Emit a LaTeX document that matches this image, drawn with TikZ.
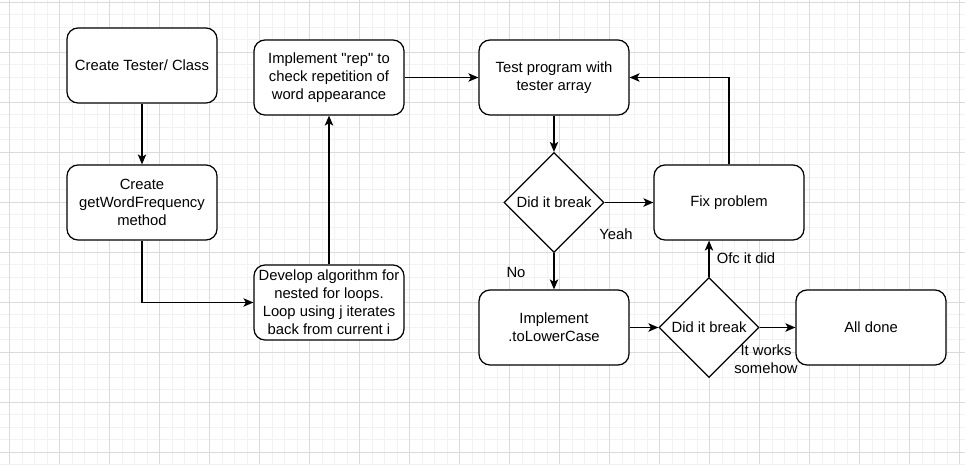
\documentclass[tikz,border=0pt]{standalone}
\usepackage{fontspec}
\setmainfont{Liberation Sans}
\newfontfamily\qfont{Liberation Sans}
\usetikzlibrary{shapes.geometric,arrows.meta}
\newcommand\dfont{\fontsize{14.8pt}{18pt}\selectfont}
\newcommand\sq{{\qfont\char34}}
\begin{document}
\begin{tikzpicture}[x=1pt,y=-1pt,
  minorline/.style={draw=black!5,line width=0.9pt},
  majorline/.style={draw=black!14,line width=0.9pt},
  box/.style={draw,line width=1.25pt,rounded corners=11pt,minimum width=150pt,minimum height=75pt,align=center,font=\dfont,inner sep=1pt,fill=white},
  dia/.style={draw,line width=1.25pt,diamond,minimum width=100pt,minimum height=100pt,inner sep=0pt,fill=white,label={[font=\dfont]center:#1}},
  conn/.style={line width=1.25pt,-{Stealth[length=10pt,width=8.5pt,inset=2.5pt]}},
  lbl/.style={font=\dfont,align=center,inner sep=0pt}]
\useasboundingbox (0,0) rectangle (965,464);
\fill[white] (0,0) rectangle (965,464);
% grid
\foreach \i in {0,...,77} \draw[minorline] (9.5+\i*12.5,0) -- (9.5+\i*12.5,464);
\foreach \j in {0,...,37} \draw[minorline] (0,2+\j*12.5) -- (965,2+\j*12.5);
\foreach \i in {0,...,19} \draw[majorline] (9.5+\i*50,0) -- (9.5+\i*50,464);
\foreach \j in {0,...,9} \draw[majorline] (0,2+\j*50) -- (965,2+\j*50);
% nodes
\node[box] (tester) at (142,65.5) {Create Tester/ Class};
\node[box] (gwf) at (142,202.5) {Create\\getWordFrequency\\method};
\node[box] (rep) at (329,77.5) {Implement \sq rep\sq{} to\\check repetition of\\word appearance};
\node[box] (dev) at (329,302.5) {Develop algorithm for\\nested for loops.\\Loop using j iterates\\back from current i};
\node[box] (test) at (554,77.5) {Test program with\\tester array};
\node[dia={Did it break}] (d1) at (554,202.5) {};
\node[box] (fix) at (729,202.5) {Fix problem};
\node[box] (lower) at (554,327.5) {Implement\\.toLowerCase};
\node[dia={Did it break}] (d2) at (709,327.5) {};
\node[box] (done) at (871,327.5) {All done};
% connectors
\draw[conn] (tester) -- (gwf);
\draw[conn] (gwf.south) |- (dev.west);
\draw[conn] (dev) -- (rep);
\draw[conn] (rep) -- (test);
\draw[conn] (test) -- (d1);
\draw[conn] (d1) -- (fix);
\draw[conn] (d1) -- (lower);
\draw[conn] (lower) -- (d2);
\draw[conn] (d2.north) -- (d2.north |- fix.south);
\draw[conn] (d2) -- (done);
\draw[conn] (fix.north) |- (test.east);
% labels
\node[lbl] (yeah) at (616,234) {Yeah};
\node[lbl] (no) at (516,272) {No};
\node[lbl] (ofc) at (746,258) {Ofc it did};
\node[lbl] (works) at (766,359) {It works\\somehow};
\end{tikzpicture}
\end{document}
